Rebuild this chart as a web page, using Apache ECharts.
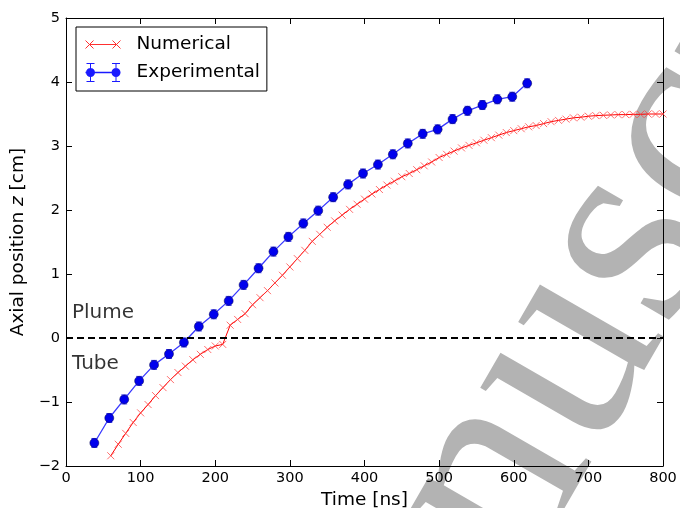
<!DOCTYPE html>
<html>
<head>
<meta charset="utf-8">
<script src="https://cdn.jsdelivr.net/npm/echarts@6/dist/echarts.min.js"></script>
<style>
  html, body { margin: 0; padding: 0; background: #fff; overflow: hidden; }
  #main { width: 680px; height: 508px; }
</style>
</head>
<body>
<div id="main"></div>
<script>
// numerical model, every 10 ns
var numTime = [60, 70, 80, 90, 100, 110, 120, 130, 140, 150, 160, 170, 180, 190, 200, 210,
  220, 230, 240, 250, 260, 270, 280, 290, 300, 310, 320, 330, 340, 350, 360, 370, 380, 390,
  400, 410, 420, 430, 440, 450, 460, 470, 480, 490, 500, 510, 520, 530, 540, 550, 560, 570,
  580, 590, 600, 610, 620, 630, 640, 650, 660, 670, 680, 690, 700, 710, 720, 730, 740, 750,
  760, 770, 780, 790, 800];
var numZ = [-1.84, -1.66, -1.49, -1.32, -1.17, -1.04, -0.90, -0.775, -0.65, -0.54, -0.44, -0.34,
  -0.255, -0.18, -0.125, -0.10,
  0.20, 0.29, 0.38, 0.52, 0.63, 0.74, 0.86, 0.98, 1.11, 1.24, 1.37, 1.51, 1.62, 1.73, 1.83, 1.92,
  2.01, 2.09, 2.17, 2.25, 2.32, 2.39, 2.45, 2.52, 2.57, 2.63, 2.69, 2.75, 2.82, 2.87, 2.92, 2.97,
  3.01, 3.05, 3.09, 3.13, 3.17, 3.21, 3.24, 3.27, 3.30, 3.32, 3.35, 3.38, 3.40, 3.42, 3.44, 3.45,
  3.465, 3.475, 3.48, 3.485, 3.49, 3.49, 3.495, 3.495, 3.50, 3.50, 3.50];

// measurements
var expTime = [38, 58, 78, 98, 118, 138, 158, 178, 198, 218, 238, 258, 278, 298, 318, 338, 358,
  378, 398, 418, 438, 458, 478, 498, 518, 538, 558, 578, 598, 618];
var expZ = [-1.64, -1.25, -0.96, -0.67, -0.42, -0.25, -0.07, 0.18, 0.37, 0.58, 0.83, 1.09, 1.35,
  1.58, 1.79, 1.99, 2.20, 2.40, 2.57, 2.71, 2.87, 3.04, 3.19, 3.26, 3.42, 3.55, 3.64, 3.73, 3.77, 3.98];
var expErr = [0.07, 0.07, 0.07, 0.07, 0.07, 0.07, 0.07, 0.07, 0.07, 0.07, 0.07, 0.07, 0.07, 0.07,
  0.07, 0.07, 0.07, 0.07, 0.07, 0.07, 0.07, 0.07, 0.07, 0.07, 0.07, 0.07, 0.07, 0.07, 0.07, 0.07];

var zoneLabels = ['Plume', 'Tube'];
var zoneAt = [[8, 0.40], [8, -0.40]];

var FONT = 'DejaVu Sans';

// legend icons drawn like matplotlib: marker at both ends of the line
var ICON_NUM = 'path://M0,0L8,8M8,0L0,8M4,4L31,4M27,0L35,8M35,0L27,8';
var ICON_EXP = 'path://M0,9.3H35V10.7H0Z' +
  'M0.5,10a4.5,4.5 0 1,1 9,0a4.5,4.5 0 1,1 -9,0Z' +
  'M26,10a4.5,4.5 0 1,1 9,0a4.5,4.5 0 1,1 -9,0Z' +
  'M4.5,0.5H5.5V19.5H4.5Z M1,0.5H9V1.5H1Z M1,18.5H9V19.5H1Z' +
  'M30,0.5H31V19.5H30Z M26.5,0.5H34.5V1.5H26.5Z M26.5,18.5H34.5V19.5H26.5Z';

function minus(v) {
  return v < 0 ? '\u2212' + Math.abs(v) : String(v);
}

function zip(xs, ys) {
  return xs.map(function (x, i) { return [x, ys[i]]; });
}

var chart = echarts.init(document.getElementById('main'), null, { renderer: 'canvas' });

var xBase = {
  min: 0, max: 800, interval: 100,
  axisLine: { onZero: false, lineStyle: { color: '#000', width: 1 } },
  axisTick: { inside: true, length: 6, lineStyle: { color: '#000' } },
  splitLine: { show: false }
};
var yBase = {
  min: -2, max: 5, interval: 1,
  axisLine: { onZero: false, lineStyle: { color: '#000', width: 1 } },
  axisTick: { inside: true, length: 6, lineStyle: { color: '#000' } },
  splitLine: { show: false }
};

// watermark: text runs up-right at ~60 degrees
var wmAngle = 60;

chart.setOption({
  animation: false,
  backgroundColor: '#fff',
  textStyle: { fontFamily: FONT },
  grid: { left: 66, right: 17, top: 18, bottom: 42, outerBoundsMode: 'none', containLabel: false },
  graphic: [{
    type: 'text',
    x: 278, y: 852,
    rotation: wmAngle * Math.PI / 180,
    z: 0,
    silent: true,
    style: {
      text: 'manuscript',
      font: '290px "Liberation Serif"',
      fill: '#b3b3b3',
      align: 'left',
      verticalAlign: 'middle'
    }
  }],
  legend: {
    left: 76, top: 27,
    orient: 'vertical',
    backgroundColor: '#fff',
    borderColor: '#000',
    borderWidth: 1,
    borderRadius: 0,
    padding: [8, 7, 9, 9],
    itemGap: 9,
    itemWidth: 35,
    itemHeight: 20,
    textStyle: { fontFamily: FONT, fontSize: 18.5, color: '#000', padding: [0, 0, 0, 11] },
    data: [
      {
        name: 'Numerical', icon: ICON_NUM,
        itemStyle: { color: '#ff3030', borderColor: '#ff3030', borderWidth: 1 }
      },
      {
        name: 'Experimental', icon: ICON_EXP,
        itemStyle: { color: '#1a1aff', borderWidth: 0 }
      }
    ]
  },
  xAxis: [
    Object.assign({}, xBase, {
      position: 'bottom',
      name: 'Time [ns]',
      nameLocation: 'middle',
      nameGap: 22,
      nameTextStyle: { fontFamily: FONT, fontSize: 18.5, color: '#000' },
      axisLabel: { fontFamily: FONT, fontSize: 14.5, color: '#000', margin: 5, formatter: minus }
    }),
    Object.assign({}, xBase, { position: 'top', axisLabel: { show: false } })
  ],
  yAxis: [
    Object.assign({}, yBase, {
      position: 'left',
      name: 'Axial position {i|z} [cm]',
      nameLocation: 'middle',
      nameGap: 29,
      nameTextStyle: {
        fontFamily: FONT, fontSize: 18.5, color: '#000',
        rich: { i: { fontFamily: FONT, fontSize: 18.5, fontStyle: 'italic', color: '#000' } }
      },
      axisLabel: { fontFamily: FONT, fontSize: 14.5, color: '#000', margin: 6, formatter: minus }
    }),
    Object.assign({}, yBase, { position: 'right', axisLabel: { show: false } })
  ],
  series: [
    {
      name: 'Numerical',
      type: 'line',
      data: zip(numTime, numZ),
      symbol: 'path://M0,0L10,10M10,0L0,10',
      symbolSize: 7,
      showAllSymbol: true,
      lineStyle: { color: '#ff0000', width: 1 },
      itemStyle: { color: 'rgba(255,0,0,0)', borderColor: 'rgba(255,60,60,0.75)', borderWidth: 1 },
      z: 3,
      markLine: {
        silent: true,
        symbol: 'none',
        label: { show: false },
        lineStyle: { color: '#000', width: 2, type: [7, 4], opacity: 1 },
        data: [{ yAxis: 0 }]
      }
    },
    {
      name: 'Experimental',
      type: 'line',
      data: zip(expTime, expZ),
      symbol: 'circle',
      symbolSize: 9,
      lineStyle: { color: '#3a3aff', width: 1.3 },
      itemStyle: { color: '#0000ee', borderColor: '#00004a', borderWidth: 0.5 },
      z: 4
    },
    {
      type: 'custom',
      data: expTime.map(function (t, i) { return [t, expZ[i] - expErr[i], expZ[i] + expErr[i]]; }),
      encode: { x: 0, y: [1, 2] },
      z: 3,
      renderItem: function (params, api) {
        var lo = api.coord([api.value(0), api.value(1)]);
        var hi = api.coord([api.value(0), api.value(2)]);
        var w = 3;
        var st = { stroke: '#3a3aff', lineWidth: 1 };
        return {
          type: 'group',
          children: [
            { type: 'line', shape: { x1: lo[0], y1: lo[1], x2: hi[0], y2: hi[1] }, style: st },
            { type: 'line', shape: { x1: lo[0] - w, y1: lo[1], x2: lo[0] + w, y2: lo[1] }, style: st },
            { type: 'line', shape: { x1: hi[0] - w, y1: hi[1], x2: hi[0] + w, y2: hi[1] }, style: st }
          ]
        };
      }
    },
    {
      type: 'scatter',
      data: zoneAt.map(function (p, i) { return { value: p, name: zoneLabels[i] }; }),
      symbolSize: 0,
      silent: true,
      label: {
        show: true,
        position: 'right',
        distance: 0,
        formatter: '{b}',
        fontFamily: FONT,
        fontSize: 20,
        color: '#000'
      },
      z: 5
    }
  ]
});
</script>
</body>
</html>
